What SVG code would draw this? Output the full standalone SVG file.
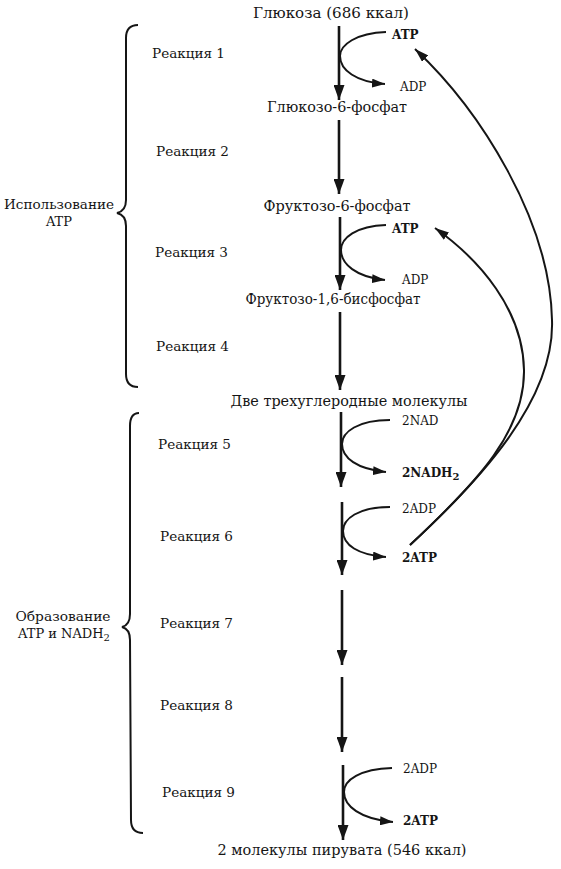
<svg xmlns="http://www.w3.org/2000/svg" width="561" height="869" viewBox="0 0 561 869">
<style>
text{font-family:"DejaVu Serif","Liberation Serif",serif;fill:#151515}
.m{font-size:14px;text-anchor:middle}
.r{font-size:13.5px}
.s{font-size:12px}
.b{font-size:12px;font-weight:bold}
.g{font-size:13px;text-anchor:middle}
.ln{fill:none;stroke:#151515;stroke-width:2.6}
.hk{fill:none;stroke:#151515;stroke-width:2}
.cv{fill:none;stroke:#151515;stroke-width:2}
.br{fill:none;stroke:#151515;stroke-width:2}
</style>
<defs>
<marker id="ah" markerUnits="userSpaceOnUse" markerWidth="11" markerHeight="15" refX="5.5" refY="15" orient="0" viewBox="0 0 11 15"><path d="M0,0 L11,0 L5.5,15 z" fill="#151515"/></marker>
<marker id="hh" markerUnits="userSpaceOnUse" markerWidth="13" markerHeight="9" refX="13" refY="4.5" orient="auto" viewBox="0 0 13 9"><path d="M0,0 L13,4.5 L0,9 z" fill="#151515"/></marker>
<marker id="ch" markerUnits="userSpaceOnUse" markerWidth="14" markerHeight="9" refX="14" refY="4.5" orient="auto" viewBox="0 0 14 9"><path d="M0,0 L14,4.5 L0,9 z" fill="#151515"/></marker>
</defs>

<g id="brace-use-atp">
<path class="br" d="M138,25 Q126,25 126,38 L126,200 Q126,211 117,213 Q126,215 126,226 L126,374 Q126,387 138,387"/>
<text class="g" x="59" y="209" textLength="110" lengthAdjust="spacingAndGlyphs">Использование</text>
<text class="g" x="59" y="226">ATP</text>
</g>
<g id="brace-make-atp">
<path class="br" d="M139,413 Q130,413 130,426 L130,614 Q130,625 122,627 Q130,629 130,640 L131,820 Q131,833 143,833"/>
<text class="g" x="63" y="621" textLength="95" lengthAdjust="spacingAndGlyphs">Образование</text>
<text class="g" x="64" y="638">ATP и NADH<tspan font-size="10" dy="3">2</tspan></text>
</g>

<g id="glucose"><text class="m" x="331" y="18" textLength="156" lengthAdjust="spacingAndGlyphs">Глюкоза (686 ккал)</text></g>
<g id="g6p"><text class="m" x="337" y="112" textLength="140" lengthAdjust="spacingAndGlyphs">Глюкозо-6-фосфат</text></g>
<g id="f6p"><text class="m" x="337" y="211" textLength="147" lengthAdjust="spacingAndGlyphs">Фруктозо-6-фосфат</text></g>
<g id="f16bp"><text class="m" x="333" y="304" textLength="175" lengthAdjust="spacingAndGlyphs">Фруктозо-1,6-бисфосфат</text></g>
<g id="c3"><text class="m" x="349" y="406" textLength="237" lengthAdjust="spacingAndGlyphs">Две трехуглеродные молекулы</text></g>
<g id="pyruvate"><text class="m" x="342" y="855" textLength="249" lengthAdjust="spacingAndGlyphs">2 молекулы пирувата (546 ккал)</text></g>

<g id="r1"><text class="r" x="152" y="58" textLength="73" lengthAdjust="spacingAndGlyphs">Реакция 1</text></g>
<g id="r2"><text class="r" x="156" y="156" textLength="73" lengthAdjust="spacingAndGlyphs">Реакция 2</text></g>
<g id="r3"><text class="r" x="155" y="257" textLength="73" lengthAdjust="spacingAndGlyphs">Реакция 3</text></g>
<g id="r4"><text class="r" x="156" y="351" textLength="73" lengthAdjust="spacingAndGlyphs">Реакция 4</text></g>
<g id="r5"><text class="r" x="158" y="449" textLength="73" lengthAdjust="spacingAndGlyphs">Реакция 5</text></g>
<g id="r6"><text class="r" x="160" y="541" textLength="73" lengthAdjust="spacingAndGlyphs">Реакция 6</text></g>
<g id="r7"><text class="r" x="160" y="628" textLength="73" lengthAdjust="spacingAndGlyphs">Реакция 7</text></g>
<g id="r8"><text class="r" x="160" y="710" textLength="73" lengthAdjust="spacingAndGlyphs">Реакция 8</text></g>
<g id="r9"><text class="r" x="162" y="797" textLength="73" lengthAdjust="spacingAndGlyphs">Реакция 9</text></g>

<g id="atp1"><text class="b" x="392" y="39">ATP</text></g>
<g id="adp1"><text class="s" x="400" y="91">ADP</text></g>
<g id="atp3"><text class="b" x="392" y="233">ATP</text></g>
<g id="adp3"><text class="s" x="402" y="284">ADP</text></g>
<g id="nad5"><text class="s" x="402" y="425">2NAD</text></g>
<g id="nadh5"><text class="b" x="402" y="477">2NADH<tspan font-size="10" dy="3">2</tspan></text></g>
<g id="adp6"><text class="s" x="402" y="513">2ADP</text></g>
<g id="atp6"><text class="b" x="402" y="562">2ATP</text></g>
<g id="adp9"><text class="s" x="403" y="773">2ADP</text></g>
<g id="atp9"><text class="b" x="403" y="825">2ATP</text></g>

<g id="connectors">
<line class="ln" x1="339" y1="26" x2="339" y2="100" marker-end="url(#ah)"/>
<line class="ln" x1="339" y1="120" x2="339" y2="194" marker-end="url(#ah)"/>
<line class="ln" x1="340" y1="217" x2="340" y2="290" marker-end="url(#ah)"/>
<line class="ln" x1="340" y1="312" x2="340" y2="390" marker-end="url(#ah)"/>
<line class="ln" x1="341" y1="412" x2="341" y2="487" marker-end="url(#ah)"/>
<line class="ln" x1="342" y1="502" x2="342" y2="575" marker-end="url(#ah)"/>
<line class="ln" x1="342" y1="590" x2="342" y2="665" marker-end="url(#ah)"/>
<line class="ln" x1="342" y1="677" x2="342" y2="752" marker-end="url(#ah)"/>
<line class="ln" x1="343" y1="765" x2="343" y2="840" marker-end="url(#ah)"/>

<path class="hk" d="M386,32 C356,33 340,45 340,56 C340,70 356,82 385,84" marker-end="url(#hh)"/>
<path class="hk" d="M386,225 C356,226 341,238 341,250 C341,264 356,277 385,280" marker-end="url(#hh)"/>
<path class="hk" d="M390,420 C358,420 342,432 342,444 C342,458 357,469 386,472" marker-end="url(#hh)"/>
<path class="hk" d="M390,507 C358,507 343,519 343,531 C343,545 358,555 386,557" marker-end="url(#hh)"/>
<path class="hk" d="M392,768 C360,769 344,780 344,792 C344,806 360,819 393,822" marker-end="url(#hh)"/>

<path class="cv" d="M410,545 C480,480 555,400 552,320 C550,220 480,110 415,49" marker-end="url(#ch)"/>
<path class="cv" d="M410,545 C480,480 525,430 524,370 C523,310 480,260 435,228" marker-end="url(#ch)"/>
</g>
</svg>
